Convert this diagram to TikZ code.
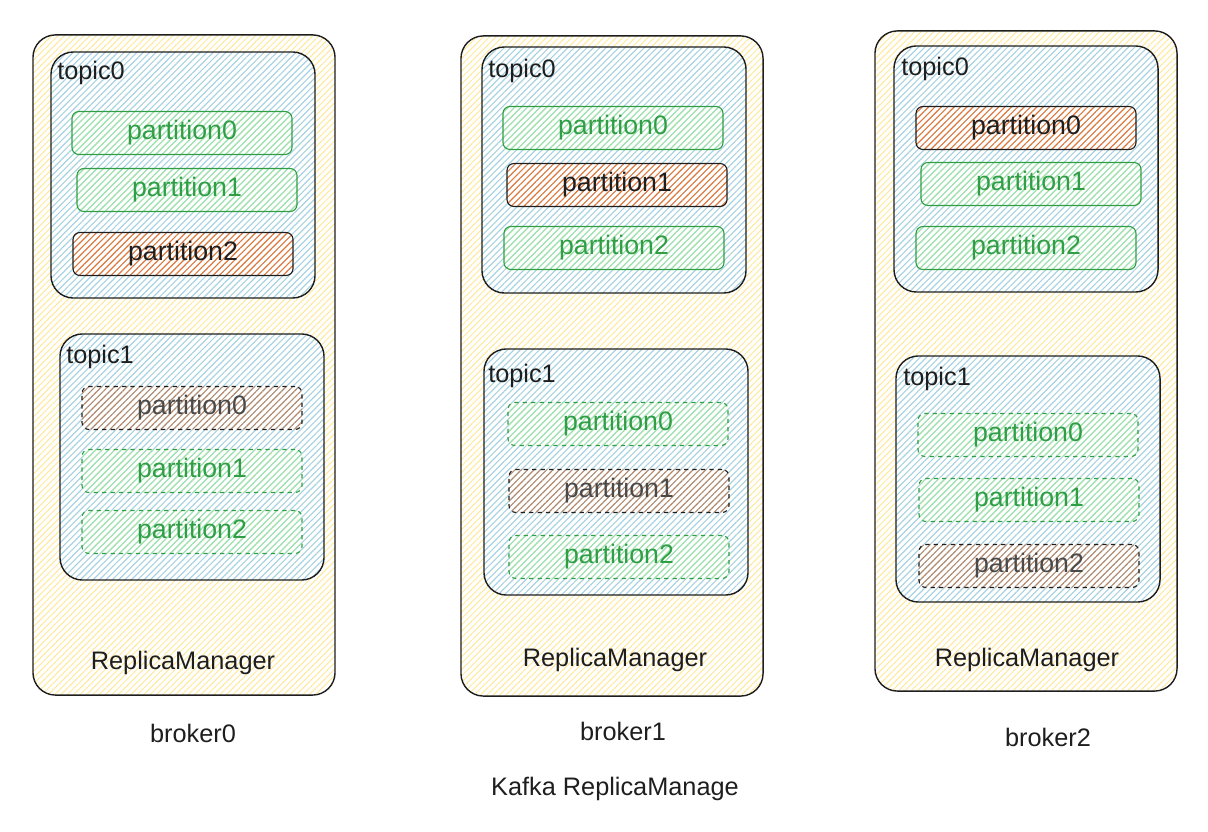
\documentclass[tikz,border=0pt]{standalone}
\usepackage{fontspec}
\setmainfont{Liberation Sans}
\usetikzlibrary{patterns.meta}

\definecolor{brokerfill}{HTML}{FFE89A}
\definecolor{topicfill}{HTML}{8CCBF5}
\definecolor{partfill}{HTML}{9EE6A8}
\definecolor{partline}{HTML}{2F9E44}
\definecolor{leadfill}{HTML}{E8590C}
\definecolor{inkline}{HTML}{1E1E1E}
\definecolor{dimink}{HTML}{4A4A4A}

\tikzset{
  hatch/.style={pattern={Lines[angle=45,distance=3.2pt,line width=0.7pt]},pattern color=#1},
  brokerbox/.style={draw=inkline,line width=1pt,rounded corners=16pt,hatch=brokerfill,
    minimum width=7.55cm,minimum height=16.5cm},
  topicbox/.style={draw=inkline,line width=1pt,rounded corners=16pt,hatch=topicfill!85,
    minimum width=6.6cm,minimum height=6.15cm},
  partbox/.style={rounded corners=5pt,line width=0.8pt,minimum width=5.5cm,minimum height=1.075cm,
    font=\fontsize{19}{22}\selectfont},
  replica/.style={partbox,draw=partline,hatch=partfill,text=partline},
  follower/.style={replica,dashed},
  leader/.style={partbox,draw=inkline,hatch=leadfill!85,text=inkline},
  stale/.style={partbox,draw=inkline,dashed,hatch=leadfill!45!gray!85,text=dimink},
  label/.style={text=inkline,font=\fontsize{18}{21}\selectfont,inner sep=0pt},
}

\begin{document}
\begin{tikzpicture}[x=0.025cm,y=-0.025cm]
\useasboundingbox (0,0) rectangle (1208,832);

% brokers
\node[brokerbox] (b0) at (184,365) {};
\node[brokerbox] (b1) at (612,366) {};
\node[brokerbox] (b2) at (1026,361) {};

% topics
\node[topicbox] (b0t0) at (183,175) {};
\node[topicbox] (b0t1) at (192,457) {};
\node[topicbox] (b1t0) at (614,170) {};
\node[topicbox] (b1t1) at (616,472) {};
\node[topicbox] (b2t0) at (1026,169) {};
\node[topicbox] (b2t1) at (1028,479) {};

\node[label,anchor=west] (b0t0name) at (57,73) {topic0};
\node[label,anchor=west] (b0t1name) at (66,357) {topic1};
\node[label,anchor=west] (b1t0name) at (488,71) {topic0};
\node[label,anchor=west] (b1t1name) at (488,376) {topic1};
\node[label,anchor=west] (b2t0name) at (901,69) {topic0};
\node[label,anchor=west] (b2t1name) at (903,379) {topic1};

% broker0 partitions
\node[replica] (b0t0p0) at (182,133) {partition0};
\node[replica] (b0t0p1) at (187,190) {partition1};
\node[leader] (b0t0p2) at (183,254) {partition2};
\node[stale] (b0t1p0) at (192,408) {partition0};
\node[follower] (b0t1p1) at (192,471) {partition1};
\node[follower] (b0t1p2) at (192,532) {partition2};

% broker1 partitions
\node[replica] (b1t0p0) at (613,128) {partition0};
\node[leader] (b1t0p1) at (617,185) {partition1};
\node[replica] (b1t0p2) at (614,248) {partition2};
\node[follower] (b1t1p0) at (618,424) {partition0};
\node[stale] (b1t1p1) at (619,491) {partition1};
\node[follower] (b1t1p2) at (619,557) {partition2};

% broker2 partitions
\node[leader] (b2t0p0) at (1026,128) {partition0};
\node[replica] (b2t0p1) at (1031,184) {partition1};
\node[replica] (b2t0p2) at (1026,248) {partition2};
\node[follower] (b2t1p0) at (1028,435) {partition0};
\node[follower] (b2t1p1) at (1029,500) {partition1};
\node[stale] (b2t1p2) at (1029,566) {partition2};

% captions
\node[label] (b0rm) at (183,663) {ReplicaManager};
\node[label] (b1rm) at (615,660) {ReplicaManager};
\node[label] (b2rm) at (1027,660) {ReplicaManager};
\node[label] (b0name) at (193,733) {broker0};
\node[label] (b1name) at (623,731) {broker1};
\node[label] (b2name) at (1048,737) {broker2};
\node[label] (title) at (615,789) {Kafka ReplicaManage};
\end{tikzpicture}
\end{document}
